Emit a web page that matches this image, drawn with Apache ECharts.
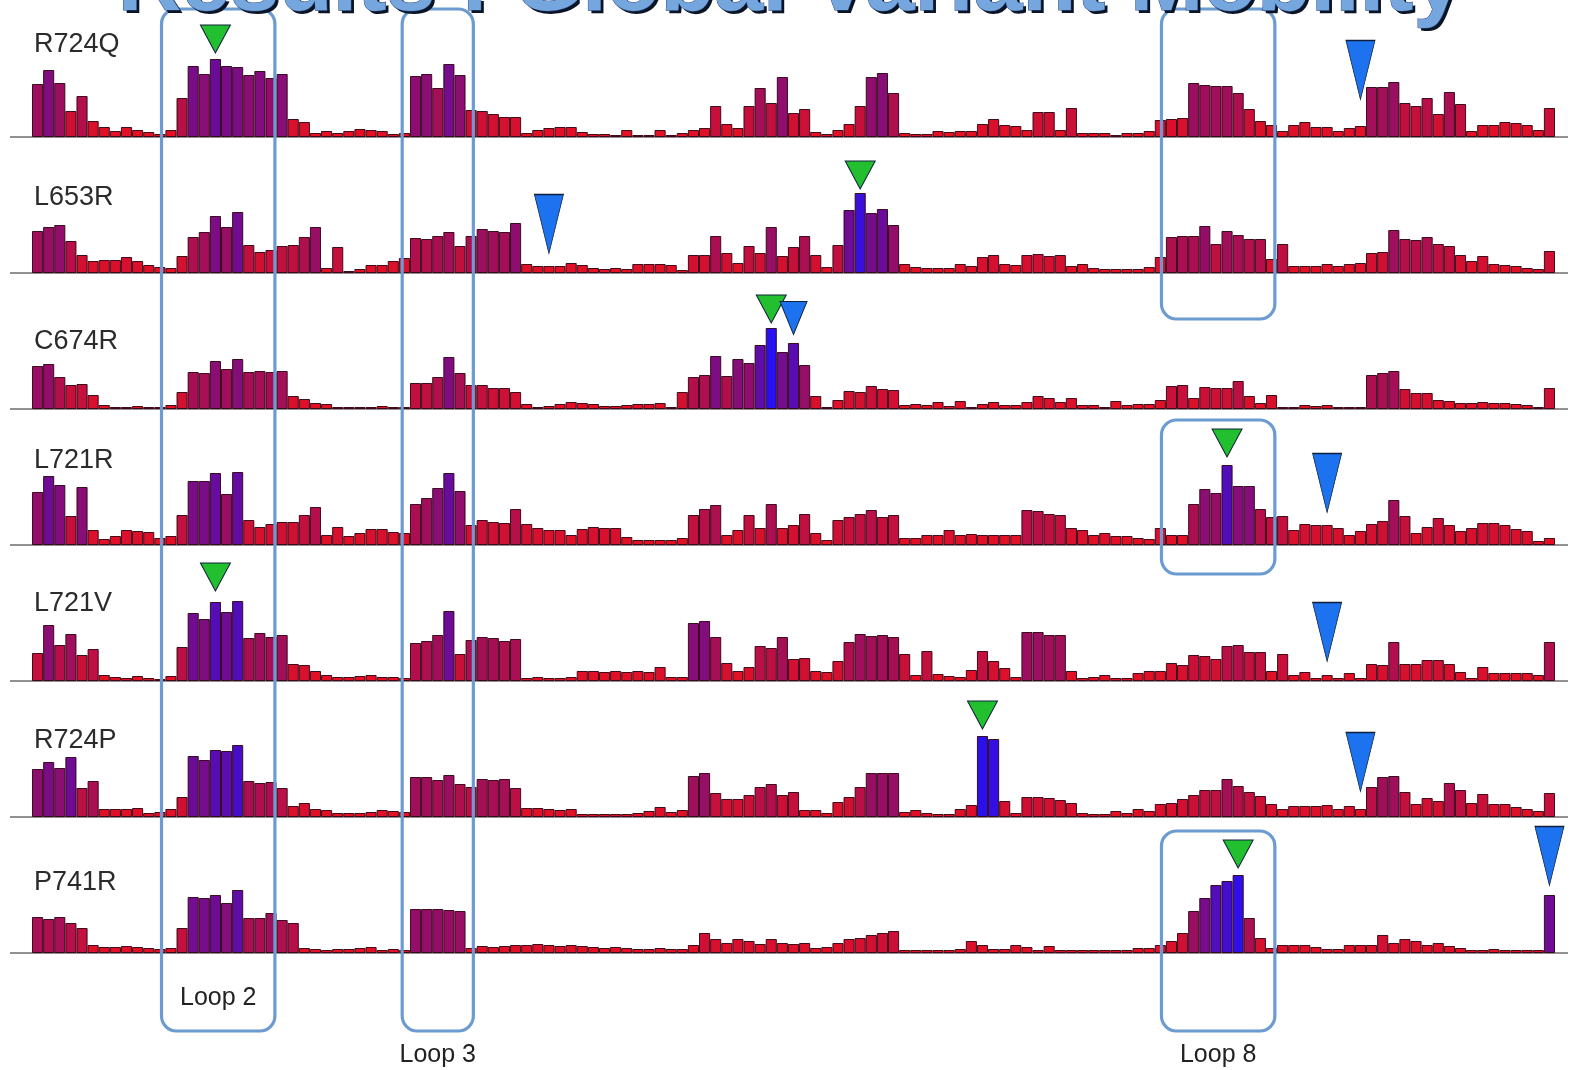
<!DOCTYPE html>
<html><head><meta charset="utf-8">
<script src="https://cdn.jsdelivr.net/npm/echarts@6/dist/echarts.min.js"></script>
<style>html,body{margin:0;padding:0;background:#fff}#c{width:1570px;height:1070px}</style>
</head><body><div id="c"></div>
<script>
// ---------------- DATA ----------------
const titleText = 'Results : Global Variant Mobility';
const variants = ['R724Q', 'L653R', 'C674R', 'L721R', 'L721V', 'R724P', 'P741R'];
const residues = Array.from({length: 137}, (_, i) => String(i + 1));

const mobR724Q = [53,67,54,26,41,16,10,6,10,7, 5,3,7,39,71,63,78,71,70,62, 66,59,63,18,15,4,6,4,6,8, 7,6,3,4,61,63,49,73,62,27,
  26,23,20,20,4,7,9,10,10,5, 3,3,2,7,2,2,7,2,4,7, 9,31,13,9,31,49,34,60,24,28, 5,3,7,13,31,60,64,44,4,3,
  3,6,5,6,6,13,18,12,11,7, 25,25,7,29,4,4,4,2,4,4, 6,17,18,19,54,52,51,51,44,28, 16,12,6,12,15,10,10,6,9,11,
  50,50,55,34,31,39,23,45,33,6, 12,12,15,14,12,7,29];
const mobL653R = [42,46,48,32,18,12,13,13,16,12, 8,6,5,17,36,41,57,46,61,28, 21,23,27,28,36,46,5,26,2,4, 8,8,12,15,35,34,37,41,27,37,
  44,42,41,50,9,7,7,7,10,8, 5,4,5,4,9,9,9,8,3,18, 18,37,20,10,27,20,46,17,26,37, 18,6,28,63,80,60,64,48,9,6,
  5,5,5,9,7,16,18,9,8,18, 19,17,18,7,9,5,4,4,4,4, 6,16,36,37,37,47,29,42,38,34, 34,14,29,7,7,7,9,7,9,10,
  20,21,43,34,33,36,29,27,18,12, 17,9,8,7,5,4,22];
const mobC674R = [43,45,32,24,25,14,4,2,2,3, 2,2,4,17,37,36,48,40,50,37, 38,37,38,13,10,6,5,2,2,2, 2,3,2,2,26,26,32,52,36,24,
  24,21,21,17,5,2,3,5,7,6, 5,3,3,4,5,5,6,2,17,32, 34,53,33,50,46,64,81,57,66,44, 13,2,9,18,17,23,20,19,4,5,
  4,7,3,8,2,5,7,4,4,7, 13,11,7,11,4,4,2,8,4,5, 5,9,23,24,11,22,21,21,28,13, 6,14,2,2,4,3,4,2,2,2,
  34,36,38,20,16,16,9,8,6,6, 7,6,6,5,4,2,21];
const mobL721R = [53,69,60,29,58,15,6,9,15,14, 13,7,9,30,64,64,72,51,73,25, 18,21,23,23,30,38,10,18,9,12, 16,16,13,12,41,47,57,72,54,20,
  25,23,22,36,21,17,15,15,10,16, 18,17,17,8,5,5,5,5,7,30, 36,40,10,15,30,17,41,17,20,31, 12,5,25,28,31,35,28,30,7,7,
  10,10,15,10,11,10,10,10,10,35, 34,31,30,17,15,10,12,9,9,7, 6,17,10,10,41,56,52,80,59,59, 36,28,29,15,21,20,20,17,10,14,
  21,24,45,29,12,18,27,20,14,17, 22,22,20,16,14,4,7];
const mobL721V = [28,56,36,47,26,32,6,4,3,5, 3,2,5,34,68,62,79,69,80,43, 48,44,46,17,16,10,6,4,4,5, 6,4,4,3,38,40,46,70,27,41,
  44,43,40,42,3,4,3,3,4,10, 10,9,10,9,10,9,14,4,4,58, 60,44,18,10,14,35,33,44,22,23, 10,9,20,39,47,45,46,44,27,6,
  30,7,5,4,11,30,20,13,4,49, 49,46,46,10,3,4,6,3,3,8, 10,10,18,16,26,25,22,35,36,29, 29,10,27,6,9,3,6,3,8,3,
  17,16,39,17,17,21,21,17,9,3, 14,8,8,8,8,6,39];
const mobR724P = [48,55,49,60,29,36,8,8,8,9, 4,5,8,20,61,57,67,66,72,36, 34,35,29,11,14,8,7,4,4,4, 5,7,6,5,40,40,37,42,33,30,
  38,37,38,29,9,9,8,7,8,3, 3,3,3,3,4,6,10,5,7,41, 44,24,18,18,22,30,33,22,25,7, 7,4,15,20,30,44,44,44,5,7,
  4,3,3,8,12,81,78,16,4,20, 20,19,17,14,4,3,3,6,4,8, 6,13,14,18,22,27,27,38,31,25, 21,13,8,11,11,11,12,8,11,8,
  30,40,41,25,13,19,16,34,27,14, 23,13,13,10,8,6,24];
const mobP741R = [36,34,36,30,25,8,6,6,7,6, 5,4,5,25,56,55,58,50,63,35, 35,40,33,30,5,4,3,4,4,5, 6,3,4,3,44,44,44,43,42,5,
  7,6,7,8,8,9,8,7,8,7, 6,5,6,5,4,4,5,4,4,8, 20,14,10,14,12,9,14,10,9,10, 5,6,10,14,15,18,20,22,3,3,
  3,3,3,4,12,8,4,4,8,6, 3,7,3,3,3,3,3,3,3,5, 5,8,12,20,42,55,68,72,78,35, 15,5,8,8,8,6,4,4,8,8,
  8,18,10,14,12,8,10,7,5,3, 3,4,3,3,3,3,58];

// highlighted residues: [row, residue index, height above baseline, kind]
const markers = [
  [0, 16, 98, 'green'], [0, 119, 67, 'blue'],
  [1, 74, 98, 'green'], [1, 46, 49, 'blue'],
  [2, 66, 100, 'green'], [2, 68, 91, 'blueSmall'],
  [3, 107, 102, 'green'], [3, 116, 62, 'blue'],
  [4, 16, 104, 'green'], [4, 116, 49, 'blue'],
  [5, 85, 102, 'green'], [5, 119, 55, 'blue'],
  [6, 108, 99, 'green'], [6, 136, 97, 'blue']
];

// loop regions (in bar units from the left edge) and the rows they frame
const loops = [
  {name: 'Loop 2', span: [11.65, 21.85], boxes: [[0, 128, 6, -78]], label: [6, -45]},
  {name: 'Loop 3', span: [33.3, 39.7], boxes: [[0, 128, 6, -78]], label: [6, -102]},
  {name: 'Loop 8', span: [101.6, 111.8], boxes: [[0, 128, 1, -46], [3, 125, 3, -29], [6, 122, 6, -78]], label: [6, -102]}
];

// ---------------- STYLE / LAYOUT ----------------
const rows = [mobR724Q, mobL653R, mobC674R, mobL721R, mobL721V, mobR724P, mobP741R];
const colorMax = [105, 86, 81, 95, 95, 82, 80];
const labelLift = [92, 75, 67, 84, 77, 76, 70];
const ramp = ['#ec101e', '#cf1034', '#9e0f5c', '#6a0c9a', '#2810f2'];
const markerStyle = {
  green: {size: [30, 28], color: '#22c02e'},
  blue: {size: [29, 59], color: '#1d72f0'},
  blueSmall: {size: [27, 33], color: '#1d72f0'}
};
const ROW_GAP = 136, FIRST_BASE = 137, GRID_H = 130;

const chart = echarts.init(document.getElementById('c'), null, {renderer: 'canvas'});

const option = {
  animation: false,
  backgroundColor: '#ffffff',
  grid: rows.map((_, i) => ({left: 32, right: 15, top: FIRST_BASE + ROW_GAP * i - GRID_H, height: GRID_H})),
  xAxis: rows.map((_, i) => ({type: 'category', gridIndex: i, data: residues, show: false})),
  yAxis: rows.map((_, i) => ({type: 'value', gridIndex: i, min: 0, max: GRID_H, show: false})),
  visualMap: rows.map((_, i) => ({
    type: 'continuous', show: false, seriesIndex: i, min: 0, max: colorMax[i],
    inRange: {color: ramp}
  })),
  series: rows.map((data, i) => ({
    type: 'bar', name: variants[i], xAxisIndex: i, yAxisIndex: i, data: data,
    barCategoryGap: '0%',
    itemStyle: {borderColor: 'rgba(45,0,15,0.9)', borderWidth: 1},
    markPoint: {
      symbol: 'triangle', symbolRotate: 180, silent: true, label: {show: false},
      data: markers.filter(m => m[0] === i).map(m => ({
        coord: [residues[m[1]], m[2]],
        symbolSize: markerStyle[m[3]].size,
        itemStyle: {color: markerStyle[m[3]].color, borderColor: '#10203a', borderWidth: 1}
      }))
    }
  }))
};
chart.setOption(option);

// ---------------- ANNOTATIONS (from axis coordinates) ----------------
const px = (row, idx, val) => chart.convertToPixel({gridIndex: row}, [residues[idx], val]);
const c0 = px(0, 0, 0)[0], c1 = px(0, 1, 0)[0];
const bw = c1 - c0;
const xAt = f => c0 - bw / 2 + f * bw;
const yAt = (row, val) => px(row, 0, val)[1];

const graphic = [];
// title shadow + title (cut at top edge)
graphic.push({
  type: 'text', z: 49, x: 793, y: -11,
  style: {
    text: titleText, align: 'center', verticalAlign: 'middle',
    font: 'bold 88px "Liberation Sans", Arial, sans-serif',
    fill: '#0b1424'
  }
});
graphic.push({
  type: 'text', z: 50, x: 790, y: -14,
  style: {
    text: titleText, align: 'center', verticalAlign: 'middle',
    font: 'bold 88px "Liberation Sans", Arial, sans-serif',
    fill: '#76a6de', stroke: '#2a4a80', lineWidth: 1
  }
});
rows.forEach((_, i) => {
  const y = yAt(i, 0);
  graphic.push({type: 'line', z: 1, shape: {x1: 10, y1: y, x2: 1568, y2: y}, style: {stroke: '#6d6d6d', lineWidth: 1.5}});
  graphic.push({
    type: 'text', z: 60, x: 34, y: y - labelLift[i],
    style: {text: variants[i], verticalAlign: 'middle', font: '27px "Liberation Sans", Arial, sans-serif', fill: '#2b2b2b'}
  });
});
loops.forEach(lp => {
  const x1 = xAt(lp.span[0]), x2 = xAt(lp.span[1]);
  lp.boxes.forEach(b => {
    const y1 = yAt(b[0], b[1]), y2 = yAt(b[2], b[3]);
    graphic.push({
      type: 'rect', z: 40, shape: {x: x1, y: y1, width: x2 - x1, height: y2 - y1, r: 15},
      style: {fill: 'none', stroke: '#6b9bd0', lineWidth: 3.2}
    });
  });
  graphic.push({
    type: 'text', z: 60, x: (x1 + x2) / 2, y: yAt(lp.label[0], lp.label[1]),
    style: {text: lp.name, align: 'center', verticalAlign: 'middle', font: '25px "Liberation Sans", Arial, sans-serif', fill: '#222'}
  });
});
chart.setOption({graphic: graphic});
</script></body></html>
